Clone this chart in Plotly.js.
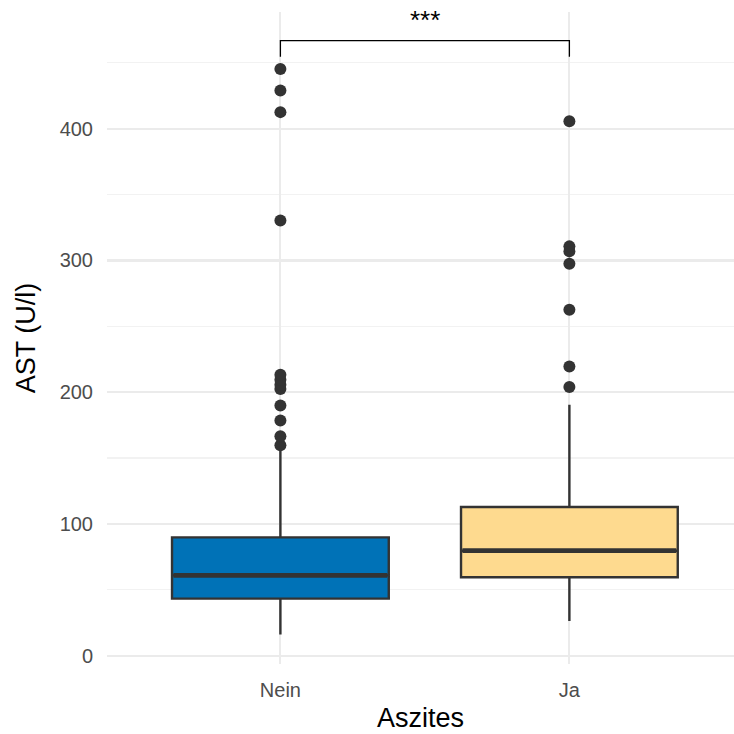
<!DOCTYPE html>
<html>
<head>
<meta charset="utf-8">
<script src="https://cdn.plot.ly/plotly-3.0.1.min.js"></script>
<style>html,body{margin:0;padding:0;background:#fff;}#chart{width:734px;height:734px;}</style>
</head>
<body>
<div id="chart"></div>
<script>
// ---- data ----
const categories = ["Nein", "Ja"];
const categoryPos = [1, 2];
const q1Values = [43.3, 59.5];
const medianValues = [61.0, 79.7];
const q3Values = [89.8, 112.9];
const lowerWhisker = [16.0, 26.3];
const upperWhisker = [157.0, 190.5];
const outliersNein = [159.8, 166.5, 178.6, 190.0, 202.4, 205.7, 209.5, 213.3, 330.4, 412.6, 429.1, 445.3];
const outliersJa = [203.9, 219.6, 262.6, 297.5, 306.9, 310.7, 405.6];
const bracketTop = 466.8;
const bracketTickBottom = 454.6;
const bracketLabel = "***";

const fillColors = ["#0072B7", "#FEDA8F"];
const dark = "#333333";
const boxWidth = 0.75;
const fontFam = "Liberation Sans, Arial, sans-serif";

const traces = [];
categories.forEach((c, i) => {
  traces.push({
    type: "box",
    name: c,
    x: [categoryPos[i]],
    q1: [q1Values[i]],
    median: [medianValues[i]],
    q3: [q3Values[i]],
    lowerfence: [lowerWhisker[i]],
    upperfence: [upperWhisker[i]],
    width: boxWidth,
    fillcolor: fillColors[i],
    line: {color: dark, width: 2.4},
    whiskerwidth: 0,
    boxpoints: false,
    hoverinfo: "skip"
  });
  // thicker median line (ggplot style)
  traces.push({
    type: "scatter", mode: "lines",
    x: [categoryPos[i] - boxWidth / 2 + 0.005, categoryPos[i] + boxWidth / 2 - 0.005],
    y: [medianValues[i], medianValues[i]],
    line: {color: dark, width: 4.8},
    hoverinfo: "skip"
  });
});
const outlierSets = [outliersNein, outliersJa];
outlierSets.forEach((vals, i) => {
  traces.push({
    type: "scatter", mode: "markers",
    x: vals.map(() => categoryPos[i]),
    y: vals,
    marker: {color: dark, size: 12},
    hoverinfo: "skip"
  });
});
// significance bracket
traces.push({
  type: "scatter", mode: "lines",
  x: [categoryPos[0], categoryPos[0], categoryPos[1], categoryPos[1]],
  y: [bracketTickBottom, bracketTop, bracketTop, bracketTickBottom],
  line: {color: "#000000", width: 1.3},
  hoverinfo: "skip"
});

const layout = {
  width: 734, height: 734,
  margin: {l: 107, r: 0, t: 12, b: 70},
  paper_bgcolor: "#ffffff", plot_bgcolor: "#ffffff",
  showlegend: false,
  font: {family: fontFam, color: "#4D4D4D"},
  xaxis: {
    range: [0.4, 2.5696],
    tickvals: categoryPos,
    ticktext: categories,
    showgrid: true, gridcolor: "#EBEBEB", gridwidth: 2.2,
    zeroline: false, showline: false, ticks: "",
    tickfont: {size: 20, color: "#4D4D4D"},
    ticklabelstandoff: 12,
    title: {text: "Aszites", font: {size: 27, color: "#000000"}, standoff: 8}
  },
  yaxis: {
    range: [-6.3, 488.6],
    tickvals: [0, 100, 200, 300, 400],
    showgrid: true, gridcolor: "#EBEBEB", gridwidth: 2.2,
    minor: {tickvals: [50, 150, 250, 350, 450], showgrid: true, gridcolor: "#F2F2F2", gridwidth: 1.2},
    zeroline: false, showline: false, ticks: "",
    tickfont: {size: 20, color: "#4D4D4D"},
    ticklabelstandoff: 13,
    title: {text: "AST (U/l)", font: {size: 27, color: "#000000"}, standoff: 16}
  },
  annotations: [{
    x: (categoryPos[0] + categoryPos[1]) / 2, y: bracketTop,
    xref: "x", yref: "y",
    text: bracketLabel, showarrow: false,
    yanchor: "bottom", yshift: 4,
    font: {size: 26, color: "#000000", family: fontFam}
  }]
};

Plotly.newPlot("chart", traces, layout, {displayModeBar: false, staticPlot: true});
</script>
</body>
</html>
